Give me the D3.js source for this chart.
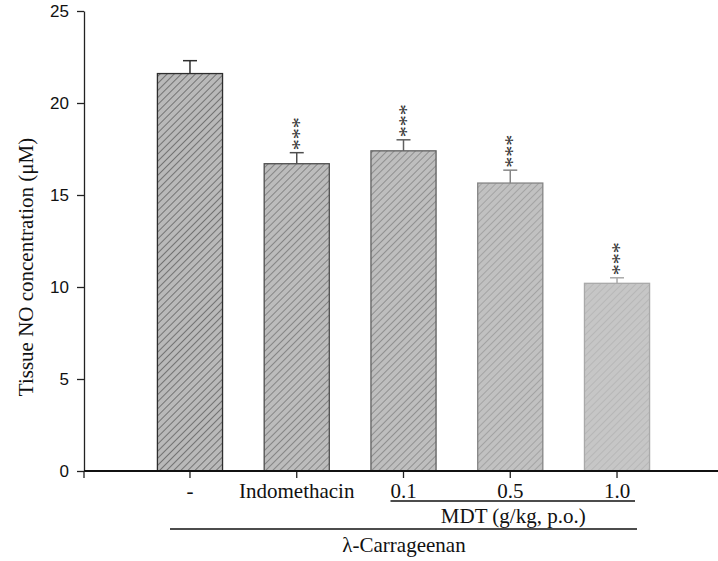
<!DOCTYPE html>
<html><head><meta charset="utf-8">
<script src="https://cdn.jsdelivr.net/npm/d3@7"></script>
<style>body{margin:0;background:#fff}svg{display:block}</style>
</head><body>
<svg id="c" width="718" height="561"></svg>
<script>
const categories = ["-", "Indomethacin", "0.1", "0.5", "1.0"];
const means = [21.6, 16.7, 17.4, 15.65, 10.2];
const errors = [0.7, 0.6, 0.6, 0.7, 0.3];
const significance = ["", "***", "***", "***", "***"];
const yTicks = [0, 5, 10, 15, 20, 25];
const fills = ["#b9b9b9", "#bcbcbc", "#bebebe", "#c1c1c1", "#c6c6c6"];
const hatchColors = ["#2e2e2e", "#4e4e4e", "#606060", "#858585", "#a9a9a9"];
const yLabel = "Tissue NO concentration (\u03bcM)";
const mdtLabel = "MDT (g/kg, p.o.)";
const carrLabel = "\u03bb-Carrageenan";

const svg = d3.select("#c");
const y = d3.scaleLinear().domain([0, 25]).range([471, 11]);
const x = d3.scaleBand().domain(categories).range([136.6, 670.4]).paddingInner(0.39).paddingOuter(0.195);
const serif = "Liberation Serif, Times New Roman, serif";

const defs = svg.append("defs");
categories.forEach((c, i) => {
  const p = defs.append("pattern").attr("id", "h" + i).attr("patternUnits", "userSpaceOnUse")
    .attr("width", 5).attr("height", 5).attr("patternTransform", "rotate(45)");
  p.append("rect").attr("width", 5).attr("height", 5).attr("fill", fills[i]);
  p.append("line").attr("x1", 0).attr("y1", 0).attr("x2", 0).attr("y2", 5)
    .attr("stroke", hatchColors[i]).attr("stroke-width", 1);
});

// bars
svg.selectAll("rect.bar").data(means).join("rect").attr("class", "bar")
  .attr("x", (d, i) => x(categories[i]))
  .attr("width", x.bandwidth())
  .attr("y", d => y(d))
  .attr("height", d => y(0) - y(d))
  .attr("fill", (d, i) => `url(#h${i})`)
  .attr("stroke", (d, i) => hatchColors[i]).attr("stroke-width", 1.3);

// error bars + significance
means.forEach((m, i) => {
  const cx = x(categories[i]) + x.bandwidth() / 2;
  const col = hatchColors[i];
  const top = y(m + errors[i]);
  svg.append("line").attr("x1", cx).attr("x2", cx).attr("y1", y(m)).attr("y2", top)
    .attr("stroke", col).attr("stroke-width", 1.5);
  svg.append("line").attr("x1", cx - 7).attr("x2", cx + 7).attr("y1", top).attr("y2", top)
    .attr("stroke", col).attr("stroke-width", 1.5);
  if (significance[i]) {
    // vertical stack of asterisks, one text rotated so glyphs run downward
    svg.append("text")
      .attr("transform", `translate(${cx},${top - 19}) rotate(90)`)
      .attr("x", 0).attr("y", 10.8)
      .attr("text-anchor", "middle").attr("font-family", serif)
      .attr("font-size", 22).attr("fill", "#333").text(significance[i]);
  }
});

// y axis
const ya = svg.append("g").attr("transform", "translate(84,0)")
  .call(d3.axisLeft(y).tickValues(yTicks).tickSize(7).tickSizeOuter(0));
ya.select(".domain").attr("stroke", "#222").attr("stroke-width", 1.3);
ya.selectAll(".tick line").attr("stroke", "#222").attr("stroke-width", 1.3);
ya.selectAll(".tick text").attr("font-family", "Liberation Sans, Arial, sans-serif")
  .attr("font-size", 17).attr("fill", "#111").attr("x", -15);

// x axis
const xa = svg.append("g").attr("transform", "translate(0,471)")
  .call(d3.axisBottom(x).tickSize(7).tickSizeOuter(0).tickFormat(""));
xa.select(".domain").remove();
xa.selectAll(".tick line").attr("stroke", "#222").attr("stroke-width", 1.3);
svg.append("line").attr("x1", 84).attr("x2", 718).attr("y1", 471).attr("y2", 471)
  .attr("stroke", "#111").attr("stroke-width", 2);
svg.append("line").attr("x1", 84).attr("x2", 84).attr("y1", 471).attr("y2", 478)
  .attr("stroke", "#222").attr("stroke-width", 1.3);

svg.selectAll("text.xl").data(categories).join("text").attr("class", "xl")
  .attr("x", d => x(d) + x.bandwidth() / 2).attr("y", 498)
  .attr("text-anchor", "middle").attr("font-family", serif).attr("font-size", 21).attr("fill", "#111")
  .text(d => d);

// grouping lines
const c = d => x(d) + x.bandwidth() / 2;
svg.append("line").attr("x1", c("0.1") - 13).attr("x2", c("1.0") + 18).attr("y1", 501).attr("y2", 501)
  .attr("stroke", "#111").attr("stroke-width", 1.3);
svg.append("text").attr("x", c("0.5") + 3).attr("y", 523).attr("text-anchor", "middle")
  .attr("font-family", serif).attr("font-size", 21).attr("fill", "#111").text(mdtLabel);
svg.append("line").attr("x1", 170).attr("x2", 637).attr("y1", 529).attr("y2", 529)
  .attr("stroke", "#111").attr("stroke-width", 1.3);
svg.append("text").attr("x", 404).attr("y", 552).attr("text-anchor", "middle")
  .attr("font-family", serif).attr("font-size", 21).attr("fill", "#111").text(carrLabel);

svg.append("text").attr("transform", "translate(33,267) rotate(-90)").attr("text-anchor", "middle")
  .attr("font-family", serif).attr("font-size", 21).attr("fill", "#111").text(yLabel);
</script>
</body></html>
